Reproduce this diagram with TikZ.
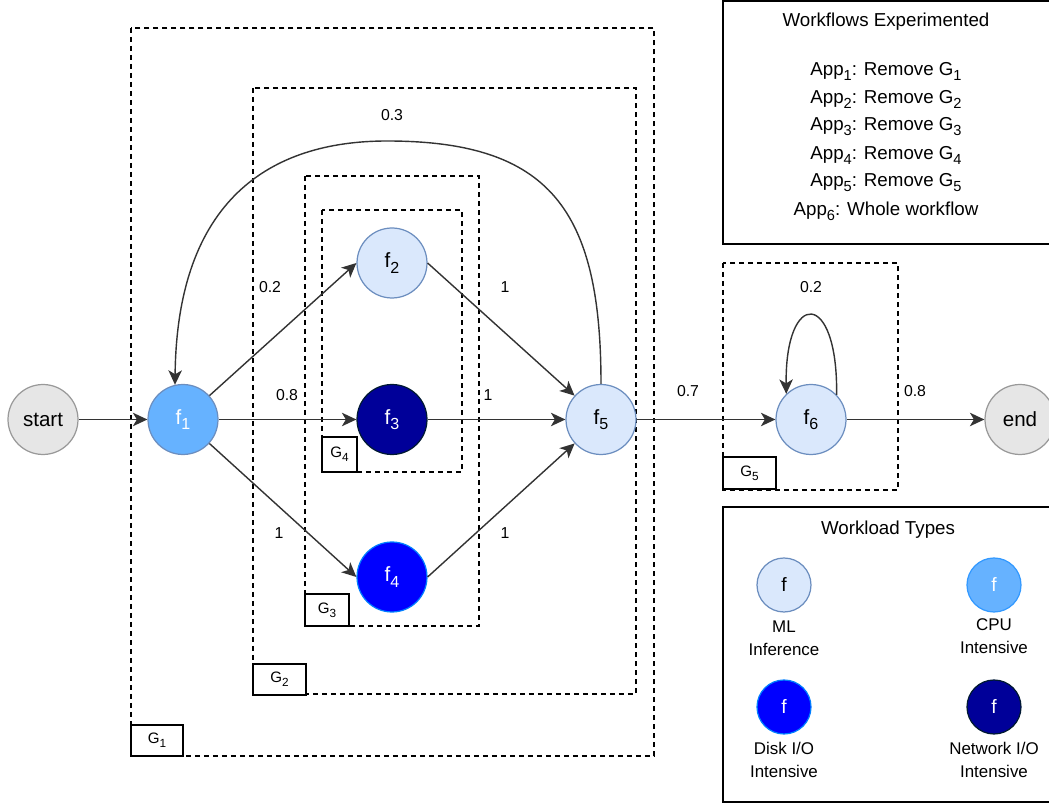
\documentclass[tikz,border=0pt]{standalone}
\usepackage{fontspec}
\usepackage{graphicx}
\setmainfont{Liberation Sans}
\usetikzlibrary{arrows.meta}

% lowered, slightly reduced index digits
\newcommand{\dsub}[1]{\raisebox{-0.5ex}{\scalebox{0.78}{#1}}}

\definecolor{edgec}{HTML}{333333}
\definecolor{mlfill}{HTML}{DAE8FC}
\definecolor{mlline}{HTML}{6C8EBF}
\definecolor{cpufill}{HTML}{66B2FF}
\definecolor{cpuline}{HTML}{3399FF}
\definecolor{diskfill}{HTML}{0000FF}
\definecolor{diskline}{HTML}{007FFF}
\definecolor{netfill}{HTML}{000099}
\definecolor{netline}{HTML}{001933}
\definecolor{termfill}{HTML}{E6E6E6}
\definecolor{termline}{HTML}{999999}

\tikzset{
  fn/.style={circle, minimum size=1.4cm, inner sep=0pt, line width=0.7pt,
             font=\fontsize{11.7}{14}\selectfont},
  mlnode/.style={fn, fill=mlfill, draw=mlline, text=black},
  cpunode/.style={fn, fill=cpufill, draw=mlline, text=white},
  disknode/.style={fn, fill=diskfill, draw=diskline, text=white},
  netnode/.style={fn, fill=netfill, draw=netline, text=white},
  termnode/.style={fn, fill=termfill, draw=termline, text=black},
  legcirc/.style={minimum size=1.08cm, font=\fontsize{11}{13}\selectfont},
  flow/.style={draw=edgec, line width=0.8pt,
               -{Stealth[length=0.29cm,width=0.27cm,inset=0.08cm]}},
  elab/.style={font=\fontsize{9}{11}\selectfont, text=black, inner sep=1pt},
  grp/.style={draw=black, dash pattern=on 0.1cm off 0.08cm, line width=0.8pt},
  glab/.style={draw=black, fill=white, line width=0.8pt, inner sep=0pt,
               font=\fontsize{8.6}{10}\selectfont},
  boxline/.style={draw=black, line width=0.8pt},
  wtext/.style={font=\fontsize{10.66}{12.5}\selectfont, inner sep=0pt},
  ltext/.style={font=\fontsize{9.64}{13}\selectfont, align=center, inner sep=0pt},
}

\begin{document}
\begin{tikzpicture}[x=0.02cm, y=-0.02cm]
\useasboundingbox (0,0) rectangle (1049,803);

% nested function groups
\draw[grp] (131,28) rectangle (654,756);
\draw[grp] (253,88) rectangle (636,694);
\draw[grp] (305,176) rectangle (479,626);
\draw[grp] (322,210) rectangle (462,472);
\draw[grp] (723,263) rectangle (898,490);

% group tags
\node[glab, minimum width=1.04cm, minimum height=0.62cm] (g1) at (157,740.5) {G\dsub{1}};
\node[glab, minimum width=1.06cm, minimum height=0.62cm] (g2) at (279.5,679.5) {G\dsub{2}};
\node[glab, minimum width=0.88cm, minimum height=0.64cm] (g3) at (327,610) {G\dsub{3}};
\node[glab, minimum width=0.70cm, minimum height=0.70cm] (g4) at (339.5,454.5) {G\dsub{4}};
\node[glab, minimum width=1.06cm, minimum height=0.64cm] (g5) at (749.5,473) {G\dsub{5}};

% workflow functions
\node[termnode] (start) at (43,419.5) {start};
\node[cpunode]  (f1) at (183,419.5) {f\dsub{1}};
\node[mlnode]   (f2) at (392,263) {f\dsub{2}};
\node[netnode]  (f3) at (392,419.5) {f\dsub{3}};
\node[disknode] (f4) at (392,577) {f\dsub{4}};
\node[mlnode]   (f5) at (601,419.5) {f\dsub{5}};
\node[mlnode]   (f6) at (811,419.5) {f\dsub{6}};
\node[termnode] (end) at (1020,419.5) {end};

% invocations
\draw[flow] (start) -- (f1);
\draw[flow] (f1) -- (f2.west);
\draw[flow] (f1) -- (f3);
\draw[flow] (f1) -- (f4.west);
\draw[flow] (f2.east) -- (f5);
\draw[flow] (f3) -- (f5);
\draw[flow] (f4.east) -- (f5);
\draw[flow] (f5.north) .. controls (601,210) and (550,141) .. (387,141)
            .. controls (270,141) and (177,200) .. (f1.103);
\draw[flow] (f5) -- (f6);
\draw[flow] (f6.44) .. controls (838,289) and (785,289) .. (f6.134);
\draw[flow] (f6) -- (end);

% transition probabilities
\node[elab] (p51) at (392,115) {0.3};
\node[elab] (p12) at (270,287) {0.2};
\node[elab] (p13) at (287,395) {0.8};
\node[elab] (p14) at (279,533) {1};
\node[elab] (p25) at (505,287) {1};
\node[elab] (p35) at (488,395) {1};
\node[elab] (p45) at (505,533) {1};
\node[elab] (p56) at (688,391) {0.7};
\node[elab] (p66) at (811,287) {0.2};
\node[elab] (p6e) at (915,391) {0.8};

% list of workflow variants
\draw[boxline] (723,1) rectangle (1052,244);
\node[wtext] (wt) at (886,22) {Workflows Experimented};
\node[wtext] (a1) at (886,71)  {App\dsub{1}: Remove G\dsub{1}};
\node[wtext] (a2) at (886,99)  {App\dsub{2}: Remove G\dsub{2}};
\node[wtext] (a3) at (886,127) {App\dsub{3}: Remove G\dsub{3}};
\node[wtext] (a4) at (886,155) {App\dsub{4}: Remove G\dsub{4}};
\node[wtext] (a5) at (886,183) {App\dsub{5}: Remove G\dsub{5}};
\node[wtext] (a6) at (886,211) {App\dsub{6}: Whole workflow};

% workload legend
\draw[boxline] (723,507) rectangle (1052,802);
\node[wtext] (lt) at (888,530) {Workload Types};
\node[mlnode, legcirc]  (lml)  at (784,585) {f};
\node[cpunode, legcirc, draw=cpuline] (lcpu) at (994,585) {f};
\node[disknode, legcirc] (ldisk) at (784,707) {f};
\node[netnode, legcirc]  (lnet)  at (994,707) {f};
\node[ltext] (tml)   at (784,638) {ML\\Inference};
\node[ltext] (tcpu)  at (994,636) {CPU\\Intensive};
\node[ltext] (tdisk) at (784,760) {Disk I/O\\Intensive};
\node[ltext] (tnet)  at (994,760) {Network I/O\\Intensive};
\end{tikzpicture}
\end{document}
